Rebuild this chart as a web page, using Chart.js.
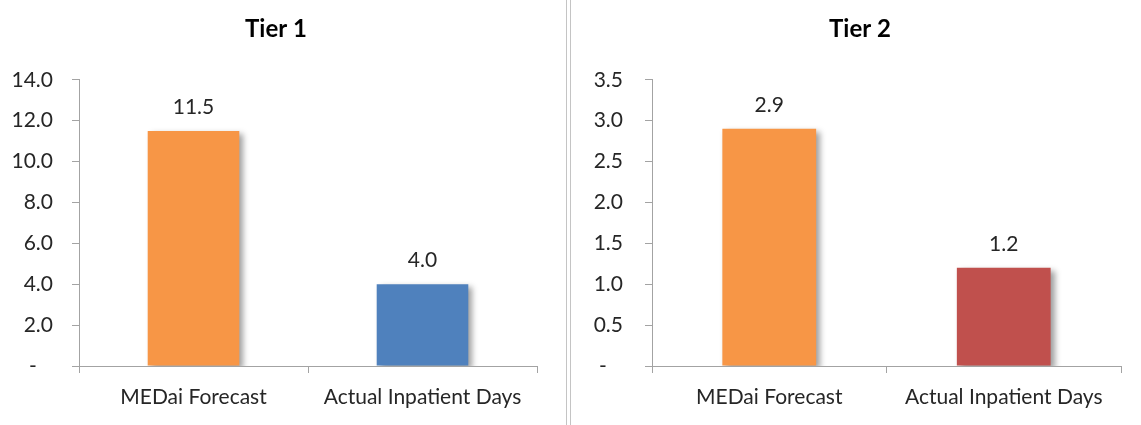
<!DOCTYPE html>
<html>
<head>
<meta charset="utf-8">
<title>Inpatient Days: MEDai Forecast vs Actual</title>
<script src="https://cdn.jsdelivr.net/npm/chart.js@4/dist/chart.umd.min.js"></script>
<style>
  html, body { margin: 0; padding: 0; background: #fff; }
  body { position: relative; width: 1141px; height: 425px; overflow: hidden; }
  .panel { position: absolute; top: 0; }
  .rule { position: absolute; top: 0; width: 1px; height: 425px; background: #c4c4c4; }
</style>
</head>
<body>
<div class="panel" style="left:0"><canvas id="tier1" width="552" height="425"></canvas></div>
<div class="rule" style="left:566px"></div>
<div class="rule" style="left:570px"></div>
<div class="panel" style="left:571px"><canvas id="tier2" width="578" height="425"></canvas></div>

<script>
// ---- data ----
const categories = ['MEDai Forecast', 'Actual Inpatient Days'];
const tier1Values = [11.5, 4.0];
const tier2Values = [2.9, 1.2];
const tier1Axis = { max: 14, step: 2 };
const tier2Axis = { max: 3.5, step: 0.5 };

// ---- styling ----
const ORANGE = '#F79646';
const BLUE = '#4F81BD';
const RED = '#C0504D';
const AXIS_GREY = '#a3a3a3';
const TEXT = '#262626';
const FONT = 'Lato, "Open Sans", sans-serif';

// soft drop shadow behind the bars
const barShadow = {
  id: 'barShadow',
  beforeDatasetsDraw(chart) {
    const ctx = chart.ctx;
    ctx.save();
    ctx.shadowColor = 'rgba(0,0,0,0.38)';
    ctx.shadowBlur = 6;
    ctx.shadowOffsetX = 4;
    ctx.shadowOffsetY = 3;
  },
  afterDatasetsDraw(chart) {
    chart.ctx.restore();
  }
};

// value printed above each bar
const valueLabels = {
  id: 'valueLabels',
  afterDatasetsDraw(chart) {
    const ctx = chart.ctx;
    const ds = chart.data.datasets[0];
    const meta = chart.getDatasetMeta(0);
    ctx.save();
    ctx.font = '21px ' + FONT;
    ctx.fillStyle = TEXT;
    ctx.textAlign = 'center';
    ctx.textBaseline = 'alphabetic';
    meta.data.forEach((bar, i) => {
      ctx.fillText(Number(ds.data[i]).toFixed(1), bar.x, bar.y - 17);
    });
    ctx.restore();
  }
};

function tierChart(id, title, values, colors, axis, box) {
  return new Chart(document.getElementById(id), {
    type: 'bar',
    data: {
      labels: categories,
      datasets: [{
        data: values,
        backgroundColor: colors,
        borderWidth: 0,
        categoryPercentage: 1,
        barPercentage: 0.4
      }]
    },
    plugins: [barShadow, valueLabels],
    options: {
      responsive: false,
      animation: false,
      devicePixelRatio: 1,
      layout: { padding: 0 },
      plugins: {
        legend: { display: false },
        tooltip: { enabled: false },
        title: {
          display: true,
          text: title,
          color: '#000',
          font: { family: FONT, size: 24, weight: 'bold' },
          padding: { top: 15, bottom: 36 }
        }
      },
      scales: {
        x: {
          grid: { display: true, drawOnChartArea: false, drawTicks: true, tickLength: 7, color: AXIS_GREY, offset: true },
          border: { display: true, color: AXIS_GREY, width: 1 },
          ticks: {
            color: TEXT,
            font: { family: FONT, size: 21 },
            padding: 12,
            maxRotation: 0,
            autoSkip: false
          },
          afterFit(scale) { scale.height = 59; }
        },
        y: {
          min: 0,
          max: axis.max,
          grid: { display: true, drawOnChartArea: false, drawTicks: true, tickLength: 7, color: AXIS_GREY },
          border: { display: true, color: AXIS_GREY, width: 1 },
          ticks: {
            stepSize: axis.step,
            color: TEXT,
            font: { family: FONT, size: 21 },
            padding: box.tickPad,
            callback: (v) => (v === 0 ? '-   ' : Number(v).toFixed(1))
          },
          afterFit(scale) { scale.width = box.axisWidth; }
        },
        // empty right-hand margin so the plot ends short of the panel edge
        gutter: {
          type: 'linear',
          position: 'right',
          display: true,
          grid: { display: false },
          border: { display: false },
          ticks: { display: false },
          afterFit(scale) { scale.width = box.gutter; }
        }
      }
    }
  });
}

tierChart('tier1', 'Tier 1', tier1Values, [ORANGE, BLUE], tier1Axis,
  { axisWidth: 79, gutter: 15, tickPad: 19 });
tierChart('tier2', 'Tier 2', tier2Values, [ORANGE, RED], tier2Axis,
  { axisWidth: 81, gutter: 28, tickPad: 22 });
</script>
</body>
</html>
